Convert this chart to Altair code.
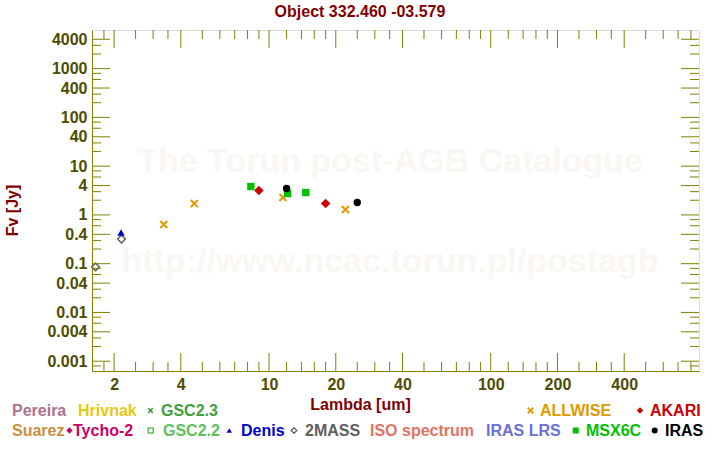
import altair as alt
import pandas as pd

# ---------------- data ----------------
catalog = ["2MASS", "2MASS", "Denis", "ALLWISE", "ALLWISE", "ALLWISE", "ALLWISE",
           "MSX6C", "MSX6C", "MSX6C", "AKARI", "AKARI", "IRAS", "IRAS"]
wavelength_um = [1.65, 2.16, 2.15, 3.35, 4.60, 11.56, 22.1,
                 8.28, 12.13, 14.65, 9.0, 18.0, 12.0, 25.0]
flux_jy = [0.086, 0.32, 0.435, 0.635, 1.71, 2.28, 1.29,
           3.83, 2.75, 2.88, 3.17, 1.71, 3.48, 1.80]

x_major_ticks = [2, 4, 10, 20, 40, 100, 200, 400]
x_minor_ticks = [1.8, 2.5, 3, 3.5, 5, 6, 7, 8, 9, 12, 14, 16, 18, 25, 30, 35,
                 50, 60, 70, 80, 90, 120, 140, 160, 180, 250, 300, 350,
                 500, 600, 700, 800]
y_major_ticks = [0.001, 0.004, 0.01, 0.04, 0.1, 0.4, 1, 4, 10, 40, 100, 400, 1000, 4000]
y_minor_ticks = [0.0008, 0.002, 0.003, 0.006, 0.008, 0.02, 0.03, 0.06, 0.08,
                 0.2, 0.3, 0.6, 0.8, 2, 3, 6, 8, 20, 30, 60, 80,
                 200, 300, 600, 800, 2000, 3000]

legend_row1 = ["Pereira", "Hrivnak", "GSC2.3", "ALLWISE", "AKARI"]
legend_row2 = ["Suarez", "Tycho-2", "GSC2.2", "Denis", "2MASS",
               "ISO spectrum", "IRAS LRS", "MSX6C", "IRAS"]

catalog_colors = {
    "Pereira": "#b0708c", "Hrivnak": "#e6c812", "GSC2.3": "#40a040",
    "ALLWISE": "#e09a00", "AKARI": "#cc0000", "Suarez": "#c8903c",
    "Tycho-2": "#cc0066", "GSC2.2": "#60c060", "Denis": "#0000cc",
    "2MASS": "#606060", "ISO spectrum": "#e07464", "IRAS LRS": "#6a70d8",
    "MSX6C": "#00c000", "IRAS": "#000000",
}

title_text = "Object 332.460 -03.579"
watermark1 = "The Torun post-AGB Catalogue"
watermark2 = "http://www.ncac.torun.pl/postagb"

# ---------------- style / layout ----------------
FONT = "Liberation Sans"
OLIVE = "#808000"
LABEL = "#4d4d00"
DARKRED = "#800000"
PX0, PY0 = 92, 30
W, H = 607, 341
XMARK = "M-1,-1L1,1M-1,1L1,-1"

xscale = alt.Scale(type="log", domain=[1.59, 870], nice=False)
yscale = alt.Scale(type="log", domain=[0.00063, 6200], nice=False)

df = pd.DataFrame({"catalog": catalog, "lam": wavelength_um, "flux": flux_jy})

x_axis = alt.Axis(values=x_major_ticks, ticks=False, grid=False, domainColor=OLIVE,
                  labelColor=LABEL, labelFont=FONT, labelFontSize=16, labelFontWeight="bold",
                  labelPadding=5, format=".4~f", labelOverlap=False, labelFlush=False,
                  title="Lambda [um]", titleColor=DARKRED, titleFont=FONT, titleFontSize=16,
                  titleFontWeight="bold", titleX=268, titleY=33, titleBaseline="middle")
y_axis = alt.Axis(values=y_major_ticks, ticks=False, grid=False, domainColor=OLIVE,
                  labelColor=LABEL, labelFont=FONT, labelFontSize=16, labelFontWeight="bold",
                  labelPadding=5, format=".4~f", labelOverlap=False, labelFlush=False,
                  title="Fv [Jy]", titleColor=DARKRED, titleFont=FONT, titleFontSize=16,
                  titleFontWeight="bold", titleX=-80, titleY=180, titleBaseline="middle")

layers = []

# watermark
for txt, cx, cy in [(watermark1, 390 - PX0, 162 - PY0), (watermark2, 390 - PX0, 262 - PY0)]:
    layers.append(
        alt.Chart(pd.DataFrame({"t": [txt]})).mark_text(
            font=FONT, fontSize=34, fontWeight="bold", color="#faf6f2",
            align="center", baseline="middle"
        ).encode(x=alt.value(cx), y=alt.value(cy), text="t:N")
    )

# data points (carry the axes)
point_styles = {
    "2MASS": dict(shape="diamond", filled=False, size=60, strokeWidth=1.5),
    "Denis": dict(shape="triangle-up", filled=True, size=55),
    "ALLWISE": dict(shape=XMARK, filled=False, size=50, strokeWidth=2),
    "MSX6C": dict(shape="square", filled=True, size=55),
    "AKARI": dict(shape="diamond", filled=True, size=90),
    "IRAS": dict(shape="circle", filled=True, size=55),
}
base_points = alt.Chart(df)
for cat, st in point_styles.items():
    layers.append(
        base_points.transform_filter(alt.datum.catalog == cat).mark_point(
            color=catalog_colors[cat], opacity=1, **st
        ).encode(
            x=alt.X("lam:Q", scale=xscale, axis=x_axis),
            y=alt.Y("flux:Q", scale=yscale, axis=y_axis),
        )
    )

# tick marks (inward, all four sides)
xt_major = pd.DataFrame({"v": x_major_ticks})
xt_minor = pd.DataFrame({"v": x_minor_ticks})
yt_major = pd.DataFrame({"v": y_major_ticks})
yt_minor = pd.DataFrame({"v": y_minor_ticks})
for d, ln in [(xt_major, 18), (xt_minor, 9)]:
    xe = alt.X("v:Q", scale=xscale, axis=x_axis)
    layers.append(alt.Chart(d).mark_rule(color=OLIVE, strokeWidth=1).encode(
        x=xe, y=alt.value(H), y2=alt.value(H - ln)))
    layers.append(alt.Chart(d).mark_rule(color=OLIVE, strokeWidth=1).encode(
        x=xe, y=alt.value(0), y2=alt.value(ln)))
for d, ln in [(yt_major, 18), (yt_minor, 9)]:
    ye = alt.Y("v:Q", scale=yscale, axis=y_axis)
    layers.append(alt.Chart(d).mark_rule(color=OLIVE, strokeWidth=1).encode(
        y=ye, x=alt.value(0), x2=alt.value(ln)))
    layers.append(alt.Chart(d).mark_rule(color=OLIVE, strokeWidth=1).encode(
        y=ye, x=alt.value(W), x2=alt.value(W - ln)))

# title as text above the plot
layers.append(
    alt.Chart(pd.DataFrame({"t": [title_text]})).mark_text(
        font=FONT, fontSize=16, fontWeight="bold", color=DARKRED,
        align="center", baseline="alphabetic"
    ).encode(x=alt.value(360 - PX0), y=alt.value(17 - PY0), text="t:N")
)

# legend (two text rows with symbols)
row_y = {1: 410.5, 2: 430.5}
legend_text_x = {
    "Pereira": 12, "Hrivnak": 78, "GSC2.3": 161, "ALLWISE": 540, "AKARI": 650,
    "Suarez": 12, "Tycho-2": 73, "GSC2.2": 163, "Denis": 241, "2MASS": 305,
    "ISO spectrum": 370, "IRAS LRS": 486, "MSX6C": 586, "IRAS": 665,
}
legend_symbols = [
    ("GSC2.3", 1, 150.5, dict(shape=XMARK, filled=False, size=22, strokeWidth=1.6)),
    ("ALLWISE", 1, 530.5, dict(shape=XMARK, filled=False, size=30, strokeWidth=1.8)),
    ("AKARI", 1, 640, dict(shape="diamond", filled=True, size=40)),
    ("Tycho-2", 2, 69.5, dict(shape="diamond", filled=True, size=40)),
    ("GSC2.2", 2, 150.7, dict(shape="square", filled=False, size=25, strokeWidth=1.5)),
    ("Denis", 2, 229.3, dict(shape="triangle-up", filled=True, size=30)),
    ("2MASS", 2, 294, dict(shape="diamond", filled=False, size=32, strokeWidth=1.3)),
    ("MSX6C", 2, 575.7, dict(shape="square", filled=True, size=36)),
    ("IRAS", 2, 654.7, dict(shape="circle", filled=True, size=36)),
]
one = pd.DataFrame({"a": [0]})
for row, names in [(1, legend_row1), (2, legend_row2)]:
    for name in names:
        layers.append(
            alt.Chart(pd.DataFrame({"t": [name]})).mark_text(
                font=FONT, fontSize=16, fontWeight="bold", color=catalog_colors[name],
                align="left", baseline="middle"
            ).encode(x=alt.value(legend_text_x[name] - PX0), y=alt.value(row_y[row] - PY0),
                     text="t:N")
        )
for name, row, sx, st in legend_symbols:
    layers.append(
        alt.Chart(one).mark_point(color=catalog_colors[name], opacity=1, **st).encode(
            x=alt.value(sx - PX0), y=alt.value(row_y[row] - PY0))
    )

chart = alt.layer(*layers).properties(
    width=W, height=H,
    padding={"left": PX0, "top": PY0, "right": 720 - PX0 - W, "bottom": 450 - PY0 - H},
    autosize=alt.AutoSizeParams(type="none"),
).configure_view(stroke=OLIVE, strokeWidth=1).configure(background="white")

chart.save("out.html", embed_options={"renderer": "svg", "actions": False})
